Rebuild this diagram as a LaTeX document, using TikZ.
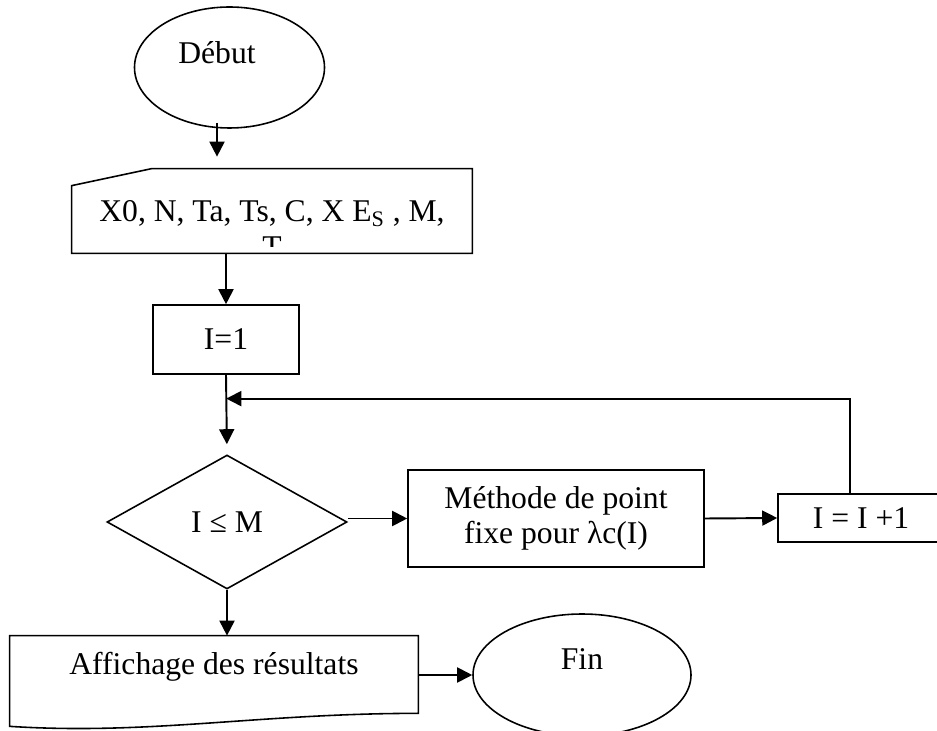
\documentclass[tikz,border=0pt]{standalone}
\usepackage{fontspec}
\setmainfont{Liberation Serif}
\usetikzlibrary{positioning, arrows.meta, shapes.geometric, calc}

\begin{document}
\begin{tikzpicture}[
    every node/.style={font=\fontsize{18}{20}\selectfont},
    terminal/.style={draw, ellipse, line width=0.9pt, inner sep=0pt},
    process/.style={draw, rectangle, line width=0.9pt, align=center, inner sep=0pt},
    decision/.style={draw, diamond, line width=0.9pt, inner sep=0pt, minimum width=4.8cm, minimum height=2.68cm},
    shell/.style={rectangle, inner sep=0pt},
    outline/.style={line width=0.9pt, line join=miter},
    arr/.style={-{Triangle[length=0.3cm, width=0.3cm]}, line width=1.1pt},
  ]
  \useasboundingbox (0,0) rectangle (18.74,-14.62);

  % Start
  \node[terminal, minimum width=3.8cm, minimum height=2.42cm,
        label={[xshift=-0.25cm, yshift=0.29cm]center:Début}] (debut) at (4.59,-1.35) {};

  % Input data (card shape, second line cut off)
  \node[shell, minimum width=8cm, minimum height=1.68cm] (inp) at (5.44,-4.22) {};
  \draw[outline] (inp.south west) -- (inp.south east) -- (inp.north east)
    -- ([xshift=1.6cm]inp.north west) -- ([yshift=-0.34cm]inp.north west) -- cycle;
  \begin{scope}
    \clip ([yshift=0.14cm]inp.south west) rectangle (inp.north east);
    \node[align=center, anchor=north, inner sep=0pt] (inptxt) at (5.44,-4.01)
      {X0, N, Ta, Ts, C, X E\textsubscript{S} , M,\\T};
  \end{scope}

  % Loop
  \node[process, minimum width=2.92cm, minimum height=1.38cm] (init) at (4.52,-6.79) {I=1};
  \node[decision] (test) at (4.54,-10.44) {I ≤ M};
  \node[process, minimum width=5.92cm, minimum height=1.94cm] (meth) at (11.12,-10.37)
    {Méthode de point\\fixe pour λc(I)};
  \node[process, minimum width=3.32cm, minimum height=0.96cm] (incr) at (17.22,-10.36) {I = I +1};

  % Output (document shape)
  \node[shell, minimum width=8.16cm, minimum height=1.24cm] (disp) at (4.28,-13.34) {Affichage des résultats};
  \draw[outline] (disp.south west) |- (disp.north east) -- ([yshift=-0.3cm]disp.south east)
    .. controls ([xshift=-3.2cm, yshift=-0.3cm]disp.south east) and ([xshift=2.8cm, yshift=-0.74cm]disp.south west)
    .. ([yshift=-0.56cm]disp.south west) -- cycle;

  % End
  \node[terminal, minimum width=4.36cm, minimum height=2.44cm,
        label={[yshift=0.32cm]center:Fin}] (fin) at (11.64,-13.5) {};

  \coordinate (back) at ($(init.south)!0.3!(test.north)$);

  \draw[arr, shorten >=0.24cm] ([xshift=-0.25cm, yshift=0.12cm]debut.south) -- ([xshift=-0.25cm]debut.south |- inp.north);
  \draw[arr] (init.north |- inp.south) -- (init.north);
  \draw[arr, shorten >=0.2cm] (init.south) -- (test.north);
  \draw[arr] (test.east |- meth.west) -- (meth.west);
  \draw[arr] (meth.east) -- (incr.west);
  \draw[arr] ([xshift=-0.22cm]incr.north) |- (back);
  \draw[arr] (test.south) -- (test.south |- disp.north);
  \draw[arr] (disp.east |- fin.west) -- (fin.west);
\end{tikzpicture}
\end{document}
